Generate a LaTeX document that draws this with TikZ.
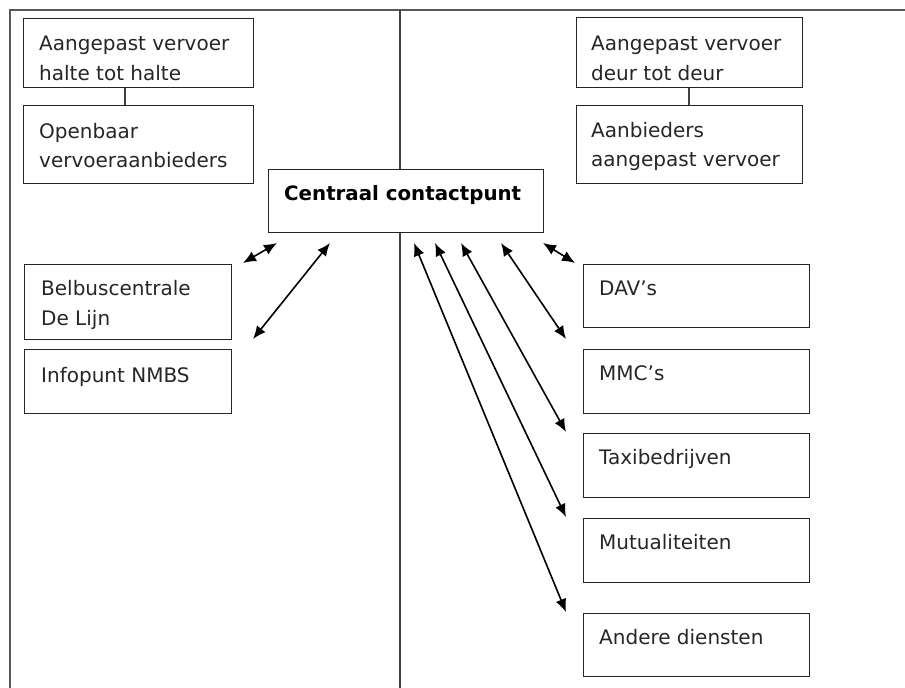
\documentclass[tikz,border=0pt]{standalone}
\usepackage{fontspec}
\setmainfont{DejaVu Sans}
\usetikzlibrary{arrows.meta}
\begin{document}
\begin{tikzpicture}[x=1pt,y=-1pt,
 box/.style={draw=black!85, line width=1.1pt, inner sep=0, anchor=north west},
 txt/.style={inner sep=0, anchor=base west, font=\fontsize{20}{24}\selectfont, text=black!85},
 btxt/.style={inner sep=0, anchor=base west, font=\fontsize{19.8}{24}\selectfont\bfseries},
 link/.style={draw=black!75, line width=1.1pt},
 frameline/.style={draw=black!65, line width=1.6pt},
 dbl/.style={line width=1.6pt, {Latex[length=13pt,width=11pt]}-{Latex[length=13pt,width=11pt]}}]
\useasboundingbox (0,0) rectangle (905,688);

% boxes
\node[box, minimum width=230pt, minimum height=69pt] (a1) at (23,18) {};
\node[box, minimum width=230pt, minimum height=78pt] (a2) at (23,105) {};
\node[box, minimum width=275pt, minimum height=63pt] (cc) at (268,169) {};
\node[box, minimum width=226pt, minimum height=70pt] (b1) at (576,17) {};
\node[box, minimum width=226pt, minimum height=78pt] (b2) at (576,105) {};
\node[box, minimum width=207pt, minimum height=75pt] (l1) at (24,264) {};
\node[box, minimum width=207pt, minimum height=64pt] (l2) at (24,349) {};
\node[box, minimum width=226pt, minimum height=63pt] (r1) at (583,264) {};
\node[box, minimum width=226pt, minimum height=64pt] (r2) at (583,349) {};
\node[box, minimum width=226pt, minimum height=64pt] (r3) at (583,433) {};
\node[box, minimum width=226pt, minimum height=64pt] (r4) at (583,518) {};
\node[box, minimum width=226pt, minimum height=63pt] (r5) at (583,613) {};

% texts
\node[txt] (ta1a) at (39,50) {Aangepast vervoer};
\node[txt] (ta1b) at (39,80) {halte tot halte};
\node[txt] (ta2a) at (39,138) {Openbaar};
\node[txt] (ta2b) at (39,167) {vervoeraanbieders};
\node[btxt] (tcc) at (284,200) {Centraal contactpunt};
\node[txt] (tb1a) at (591,50) {Aangepast vervoer};
\node[txt] (tb1b) at (591,80) {deur tot deur};
\node[txt] (tb2a) at (591,137) {Aanbieders};
\node[txt] (tb2b) at (591,166) {aangepast vervoer};
\node[txt] (tl1a) at (41,295) {Belbuscentrale};
\node[txt] (tl1b) at (41,325) {De Lijn};
\node[txt] (tl2) at (41,382) {Infopunt NMBS};
\node[txt] (tr1) at (599,295) {DAV’s};
\node[txt] (tr2) at (599,380) {MMC’s};
\node[txt] (tr3) at (599,464) {Taxibedrijven};
\node[txt] (tr4) at (599,549) {Mutualiteiten};
\node[txt] (tr5) at (599,644) {Andere diensten};

% frame and divider
\coordinate (ftl) at (10,10);
\coordinate (ftr) at (905,10);
\coordinate (fbl) at (10,688);
\coordinate (mtop) at (400,10);
\coordinate (mbot) at (400,688);
\draw[frameline] (fbl) -- (ftl) -- (ftr);
\draw[link] (mtop) -- (mtop |- cc.north);
\draw[link] (mbot |- cc.south) -- (mbot);

% links between stacked boxes
\draw[link] (a1.south -| 125,0) -- (a2.north -| 125,0);
\draw[link] (b1.south -| 689,0) -- (b2.north -| 689,0);

% arrows
\coordinate (s1) at (277,243); \coordinate (e1) at (243,263);
\coordinate (s2) at (330,243); \coordinate (e2) at (253,339);
\coordinate (s3) at (543,243); \coordinate (e3) at (575,263);
\coordinate (s4) at (501,243); \coordinate (e4) at (566,339);
\coordinate (s5) at (461,243); \coordinate (e5) at (566,432);
\coordinate (s6) at (435,243); \coordinate (e6) at (566,517);
\coordinate (s7) at (414,243); \coordinate (e7) at (566,612);
\foreach \i in {1,...,7} {\draw[dbl] (s\i) -- (e\i);}
\end{tikzpicture}
\end{document}
